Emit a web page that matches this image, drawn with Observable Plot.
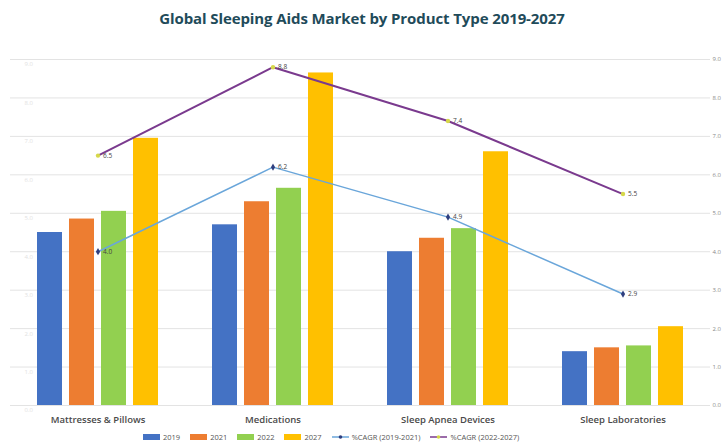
<!DOCTYPE html>
<html>
<head>
<meta charset="utf-8">
<script src="https://cdn.jsdelivr.net/npm/d3@7"></script>
<script src="https://cdn.jsdelivr.net/npm/@observablehq/plot@0.6"></script>
<style>
  html, body { margin: 0; padding: 0; background: #fff; width: 724px; height: 444px; overflow: hidden; font-family: "Open Sans", "Liberation Sans", sans-serif; }
  #title { height: 36px; line-height: 36px; text-align: center; font-weight: 700; font-size: 15px; color: #1f4b5a; letter-spacing: -0.1px; }
  #chart svg { display: block; }
  #legend { position: absolute; top: 430px; left: 143px; height: 14px; display: flex; align-items: center; font-size: 7.5px; color: #555; white-space: nowrap; }
  .item { display: flex; align-items: center; margin-right: 10px; }
  .sw { width: 17px; height: 6px; margin-right: 3px; }
  .ln { width: 17px; height: 8px; margin-right: 3px; }
</style>
</head>
<body>
<div id="title">Global Sleeping Aids Market by Product Type 2019-2027</div>
<div id="chart"></div>
<div id="legend"></div>
<script>
const categories = ["Mattresses & Pillows", "Medications", "Sleep Apnea Devices", "Sleep Laboratories"];
const years = ["2019", "2021", "2022", "2027"];
const v2019 = [4.5, 4.7, 4.0, 1.4];
const v2021 = [4.85, 5.3, 4.35, 1.5];
const v2022 = [5.05, 5.65, 4.6, 1.55];
const v2027 = [6.95, 8.65, 6.6, 2.05];
const cagr1921 = [4.0, 6.2, 4.9, 2.9];
const cagr2227 = [6.5, 8.8, 7.4, 5.5];
const yTicks = [0, 1, 2, 3, 4, 5, 6, 7, 8, 9];
const barColors = ["#4472c4", "#ed7d31", "#92d050", "#ffc000"];
const lineNames = ["%CAGR (2019-2021)", "%CAGR (2022-2027)"];

const series = [v2019, v2021, v2022, v2027];
const cagrA = categories.map((c, i) => ({category: c, value: cagr1921[i]}));
const cagrB = categories.map((c, i) => ({category: c, value: cagr2227[i]}));

const W = 724, H = 394, mL = 10, mR = 14;
const bandwidth = (W - mL - mR) / categories.length;
const barW = 25, barStep = 32;
const groupStart = bandwidth / 2 - (barStep * 3 + barW) / 2;

const barMarks = series.map((vals, k) => Plot.barY(
  categories.map((c, i) => ({category: c, value: vals[i], year: years[k]})),
  {x: "category", y: "value", fill: barColors[k],
   insetLeft: groupStart + barStep * k,
   insetRight: bandwidth - (groupStart + barStep * k) - barW}
));

const chart = Plot.plot({
  width: W, height: H,
  marginLeft: mL, marginRight: mR, marginTop: 23, marginBottom: 25,
  style: {fontFamily: "'Open Sans', 'Liberation Sans', sans-serif", background: "#fff"},
  x: {domain: categories, padding: 0, label: null},
  y: {domain: [0, 9], label: null},
  marks: [
    Plot.ruleY(yTicks, {stroke: "#e3e3e3", strokeWidth: 1}),
    ...barMarks,
    Plot.axisX({tickSize: 0, tickPadding: 11, fontSize: 9.5, fontWeight: 600, fill: "#4a4a4a", label: null}),
    Plot.axisY({anchor: "right", ticks: yTicks, tickSize: 0, tickPadding: 2, fontSize: 6, fill: "#8a8a8a", tickFormat: d => d.toFixed(1), label: null}),
    Plot.axisY({anchor: "left", ticks: yTicks, tickSize: 0, tickPadding: -14, textAnchor: "start", dy: 5, fontSize: 6, fill: "#e2e2e2", tickFormat: d => d.toFixed(1), label: null}),
    Plot.line(cagrA, {x: "category", y: "value", stroke: "#6aa6da", strokeWidth: 1.5}),
    Plot.line(cagrB, {x: "category", y: "value", stroke: "#7a3a8e", strokeWidth: 2}),
    Plot.dot(cagrA, {x: "category", y: "value", symbol: "diamond", r: 2.2, fill: "#2f3f7f"}),
    Plot.dot(cagrB, {x: "category", y: "value", r: 2.2, fill: "#d6d84a"}),
    Plot.text(cagrA, {x: "category", y: "value", text: d => d.value.toFixed(1), dx: 5, textAnchor: "start", fontSize: 6.5, fill: "#444"}),
    Plot.text(cagrB, {x: "category", y: "value", text: d => d.value.toFixed(1), dx: 5, textAnchor: "start", fontSize: 6.5, fill: "#444"})
  ]
});
document.getElementById("chart").appendChild(chart);

const legend = document.getElementById("legend");
years.forEach((y, k) => {
  const it = document.createElement("div");
  it.className = "item";
  it.innerHTML = `<div class="sw" style="background:${barColors[k]}"></div><span>${y}</span>`;
  legend.appendChild(it);
});
const lineStyles = [["#6aa6da", "#2f3f7f"], ["#7a3a8e", "#d6d84a"]];
lineNames.forEach((n, k) => {
  const it = document.createElement("div");
  it.className = "item";
  it.innerHTML = `<svg class="ln" width="17" height="8"><line x1="0" x2="17" y1="4" y2="4" stroke="${lineStyles[k][0]}" stroke-width="1.5"/><circle cx="8.5" cy="4" r="1.8" fill="${lineStyles[k][1]}"/></svg><span>${n}</span>`;
  legend.appendChild(it);
});
</script>
</body>
</html>
